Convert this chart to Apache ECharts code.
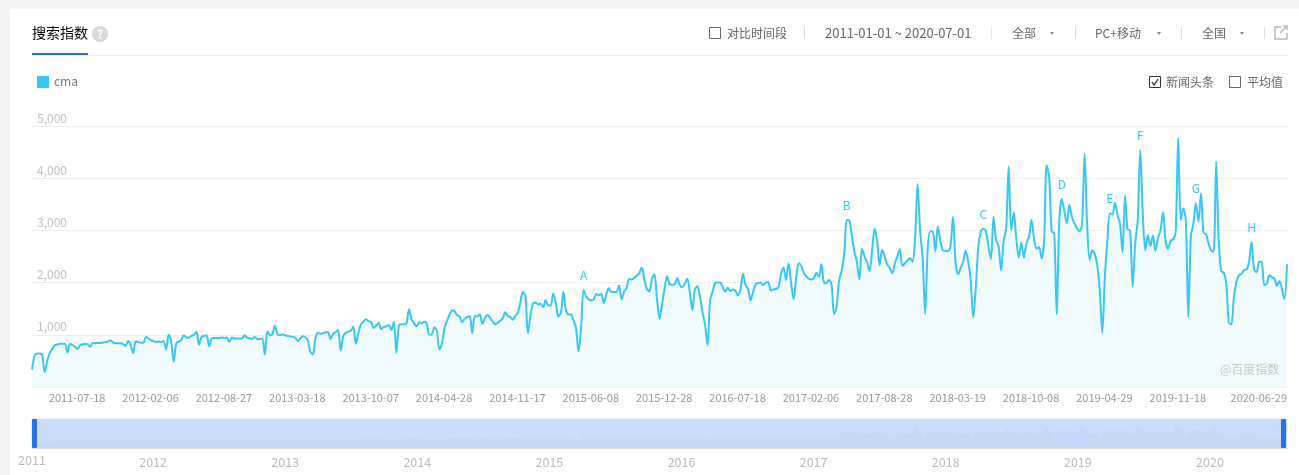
<!DOCTYPE html>
<html>
<head>
<meta charset="utf-8">
<style>html,body{margin:0;padding:0;background:#fff}#c{width:1299px;height:475px}</style>
<script src="https://cdn.jsdelivr.net/npm/echarts@6/dist/echarts.min.js"></script>
</head>
<body>
<div id="c"></div>
<script>
const FONT = '"Noto Sans CJK SC","Noto Sans",sans-serif';
const seriesName = 'cma';
const firstWeek = '2010-12-27';
const values2011 = [335,600,640,640,620,285,500,650,730,800,810,830,830,830,660,830,800,770,730,800,820,825,820,770,845,840,845,840,850,860,870,895,850,840,840,840,820,790,880,800,650,880,860,850,850,960,930,900,880,860];
const values2012 = [870,860,880,720,1000,880,490,840,870,900,990,950,950,980,1000,1060,810,960,980,990,780,930,940,940,940,950,940,950,860,950,930,930,930,930,990,945,930,920,960,915,920,930,620,1070,990,1010,1180,1010,990];
const values2013 = [1010,990,980,970,960,950,880,930,970,950,900,680,620,930,1040,1020,1030,1050,1050,920,1020,1050,1090,700,970,1040,1060,1080,1160,830,1040,1200,1250,1300,1260,1250,1130,1170,1230,1110,1150,1160,1190,1090,1250,660,1180,1200,1200,1220];
const values2014 = [1490,1300,1220,1160,1240,1220,1250,1220,1000,1010,1140,1080,720,830,1130,1270,1380,1470,1450,1380,1350,1240,1310,1340,1360,1030,1360,1350,1390,1210,1320,1380,1330,1260,1200,1230,1270,1310,1430,1360,1340,1290,1360,1420,1620,1820,1750,1030,1370,1600,1620];
const values2015 = [1580,1600,1530,1660,1560,1560,1790,1620,1350,1420,1820,1480,1390,1390,1280,1130,680,1140,1860,1740,1680,1660,1680,1780,1760,1780,1610,1780,1890,1820,1820,1820,1950,1680,1830,1900,2070,2060,2090,2130,2180,2290,2060,1880,1830,2070,2160,1690,1310,1580];
const values2016 = [1880,2120,1970,1960,1970,2090,1960,1910,1980,2080,1810,1480,1870,1930,1720,1430,1200,800,1670,1830,1990,2000,2000,1910,1830,1900,1840,1870,1840,1750,1870,2170,1950,1880,1660,1830,1970,1990,2000,1950,2000,2010,1850,1870,1880,1910,2160,2290,2050,2370];
const values2017 = [2000,1680,2080,2370,2320,2190,2120,2070,2060,2080,2190,2110,2350,2000,1990,2050,1960,1400,1540,2050,2230,2540,3200,3190,2900,2600,2400,2060,2650,2500,2400,2220,2600,3030,2800,2330,2630,2500,2350,2280,2180,2370,2500,2640,2320,2370,2420,2470,2400,2850];
const values2018 = [3890,3000,2470,1400,2650,2980,2980,2600,3080,2800,2620,2610,2600,2700,3260,2400,2160,2280,2400,2610,2400,2050,1330,1900,2700,2980,3030,2980,2700,2450,3260,2820,2700,2230,2800,3030,4230,3000,3350,2850,2480,2770,2480,2750,2870,3200,2850,2650,2680,2470];
const values2019 = [2800,4250,4020,2980,2950,1390,3200,3600,3360,3130,3490,3260,3130,3040,2980,3130,4470,3130,2440,2620,2550,2330,1850,1040,2110,2810,3330,3300,3530,3300,3130,2580,3670,3020,3000,1920,2750,3200,4540,3330,2620,2910,2700,2900,2610,2850,3000,3350,2810,2650];
const values2020 = [2800,2830,2970,4770,3200,3420,3200,1340,2880,3130,3520,3170,3710,2960,2930,2750,2620,2590,4320,2810,2220,2190,1980,1240,1200,1720,2010,2140,2170,2240,2250,2400,2780,2250,2200,2400,2400,1950,1980,2140,2100,2080,1940,2030,1880,1680,2350];
const values = [].concat(values2011,values2012,values2013,values2014,values2015,values2016,values2017,values2018,values2019,values2020);
const tickLabels = ['2011-07-18','2012-02-06','2012-08-27','2013-03-18','2013-10-07','2014-04-28','2014-11-17','2015-06-08','2015-12-28','2016-07-18','2017-02-06','2017-08-28','2018-03-19','2018-10-08','2019-04-29','2019-11-18','2020-06-29'];
const newsLetters = ['A','B','C','D','E','F','G','H'];
const newsWeeks = [218,322,376,407,426,438,460,482];

const categories = values.map((_, i) => new Date(Date.parse(firstWeek + 'T00:00:00Z') + i * 7 * 864e5).toISOString().slice(0, 10));
const months = [];
for (let y = 2011, m = 2; y < 2020 || m <= 8; m++) { if (m > 12) { m = 1; y++; } months.push(y + '-' + String(m).padStart(2, '0')); }

const isLabel = (i, v) => tickLabels.indexOf(v) >= 0;
const text = (x, y, t, fill, size, extra) => ({type:'text', x, y, silent:true, style:Object.assign({text:t, fill, font:size + 'px ' + FONT, textVerticalAlign:'middle'}, extra||{})});
const box = (x, y, w, h, stroke) => ({type:'rect', silent:true, shape:{x:x+.5, y:y+.5, width:w, height:h}, style:{fill:'#fff', stroke, lineWidth:1}});
const sep = (x, color) => ({type:'line', silent:true, shape:{x1:x+.5, y1:27, x2:x+.5, y2:39}, style:{stroke:color||'#ddd', lineWidth:1}});
const arrow = (x) => ({type:'polygon', silent:true, shape:{points:[[x-2,32],[x+2,32],[x,35]]}, style:{fill:'#888'}});
const GREY = '#666';

const watermark = text(1220, 369, '@百度指数', '#c8c8c8', 12);
watermark.z = 100;

const chrome = [
  {type:'rect', silent:true, z:-10, shape:{x:0,y:0,width:1299,height:9}, style:{fill:'#f4f4f4'}},
  {type:'rect', silent:true, z:-10, shape:{x:0,y:0,width:10,height:475}, style:{fill:'#f4f4f4'}},
  text(32, 33, '搜索指数', '#000', 14),
  {type:'circle', silent:true, shape:{cx:100,cy:34,r:8}, style:{fill:'#d8d8d8'}},
  text(100, 34, '?', '#fff', 12, {textAlign:'center', font:'bold 12px ' + FONT}),
  {type:'line', silent:true, shape:{x1:32,y1:55.5,x2:1288,y2:55.5}, style:{stroke:'#eee',lineWidth:1}},
  {type:'rect', silent:true, shape:{x:32,y:53,width:56,height:2}, style:{fill:'#2470f0'}},
  box(709, 27, 11, 11, '#666'),
  text(727, 33, '对比时间段', GREY, 12),
  sep(804),
  text(825, 33, '2011-01-01 ~ 2020-07-01', GREY, 13),
  sep(991, '#dfeadb'),
  text(1012, 33, '全部', GREY, 12), arrow(1052),
  sep(1075),
  text(1095, 33, 'PC+移动', GREY, 12), arrow(1159),
  sep(1181),
  text(1202, 33, '全国', GREY, 12), arrow(1242),
  sep(1264),
  {type:'polyline', silent:true, shape:{points:[[1281,27],[1275,27],[1275,39],[1287,39],[1287,33]]}, style:{stroke:'#bbb',lineWidth:1.5,fill:'none'}},
  {type:'polyline', silent:true, shape:{points:[[1280,33],[1287,26]]}, style:{stroke:'#bbb',lineWidth:1.5,fill:'none'}},
  {type:'polyline', silent:true, shape:{points:[[1283,26],[1287,26],[1287,30]]}, style:{stroke:'#bbb',lineWidth:1.5,fill:'none'}},
  {type:'rect', silent:true, shape:{x:37,y:76,width:12,height:12}, style:{fill:'#35c8fd'}},
  text(54, 81, seriesName, '#777', 12),
  box(1149, 76, 11, 11, '#333'),
  {type:'polyline', silent:true, shape:{points:[[1152,82],[1154,85],[1158,79]]}, style:{stroke:'#333',lineWidth:1.3,fill:'none'}},
  text(1166, 82, '新闻头条', GREY, 12),
  box(1229, 76, 11, 11, '#666'),
  text(1247, 82, '平均值', GREY, 12),
  watermark,
];

const chart = echarts.init(document.getElementById('c'), null, {renderer:'canvas'});
chart.setOption({
  animation:false,
  textStyle:{fontFamily:FONT},
  graphic:{elements:chrome},
  grid:[
    {left:32, right:12, top:126, height:261},
    {left:32, right:12, top:419, height:29, show:true, backgroundColor:'#c9ddfb', borderWidth:1, borderColor:'#e3e3e3'}
  ],
  xAxis:[
    {type:'category', gridIndex:0, data:categories, boundaryGap:false,
     axisLine:{lineStyle:{color:'#f2f2f2'}},
     axisTick:{show:true, inside:true, length:2, interval:isLabel, lineStyle:{color:'#fff'}},
     axisLabel:{interval:isLabel, align:'right', color:'#999', fontSize:11, margin:5, fontFamily:FONT}},
    {type:'category', gridIndex:1, data:months, boundaryGap:false,
     axisLine:{lineStyle:{color:'#ddd'}},
     axisTick:{show:true, inside:true, length:5, interval:(i)=>i%4===3, lineStyle:{color:'#ddd'}},
     axisLabel:{interval:(i,v)=>i===0||v.slice(5)==='01',
       formatter:(v)=>v==='2011-02'?v.slice(0,4):'{b|'+v.slice(0,4)+'}',
       rich:{b:{padding:[2,0,0,0], color:'#bbb', fontSize:12.5, fontFamily:FONT}},
       color:'#bbb', fontSize:12.5, margin:6, fontFamily:FONT}}
  ],
  yAxis:[
    {type:'value', gridIndex:0, min:0, max:5000, interval:1000,
     axisLine:{show:false}, axisTick:{show:false},
     splitLine:{lineStyle:{color:'#eeeeee'}},
     axisLabel:{inside:true, margin:5, verticalAlign:'bottom', padding:[0,0,2,0], color:'#c2c2c2', fontSize:12, fontFamily:FONT,
       formatter:(v)=>v===0?'':v.toLocaleString('en-US')}},
    {type:'value', gridIndex:1, show:false}
  ],
  dataZoom:[{
    type:'slider', xAxisIndex:0, left:31, width:1251, top:419, height:29, start:0, end:100,
    brushSelect:false, showDetail:false, moveHandleSize:0, zoomLock:true,
    backgroundColor:'transparent', fillerColor:'transparent', borderColor:'transparent',
    handleIcon:'path://M1,0H4A1,1,0,0,1,5,1V28A1,1,0,0,1,4,29H1A1,1,0,0,1,0,28V1A1,1,0,0,1,1,0Z',
    handleSize:'100%', handleStyle:{color:'#2470f0', borderColor:'#2470f0', borderWidth:0},
    dataBackground:{lineStyle:{opacity:0}, areaStyle:{color:'#c5d8f7', opacity:1}},
    selectedDataBackground:{lineStyle:{opacity:0}, areaStyle:{color:'#c5d8f7', opacity:1}}
  }],
  series:[{
    name:seriesName, type:'line', xAxisIndex:0, yAxisIndex:0, data:values,
    smooth:0.3, showSymbol:false,
    lineStyle:{color:'#35c8fd', width:2},
    itemStyle:{color:'#35c8fd'},
    areaStyle:{color:'#f1fafd', opacity:1},
    markPoint:{
      symbol:'circle', symbolSize:1, itemStyle:{color:'rgba(0,0,0,0)'}, silent:true,
      label:{show:true, position:'top', distance:8, color:'#35c8fd', fontSize:12, fontFamily:FONT, formatter:(p)=>p.name},
      data:newsLetters.map((n,i)=>({name:n, coord:[newsWeeks[i], values[newsWeeks[i]]]}))
    }
  }]
});
</script>
</body>
</html>
